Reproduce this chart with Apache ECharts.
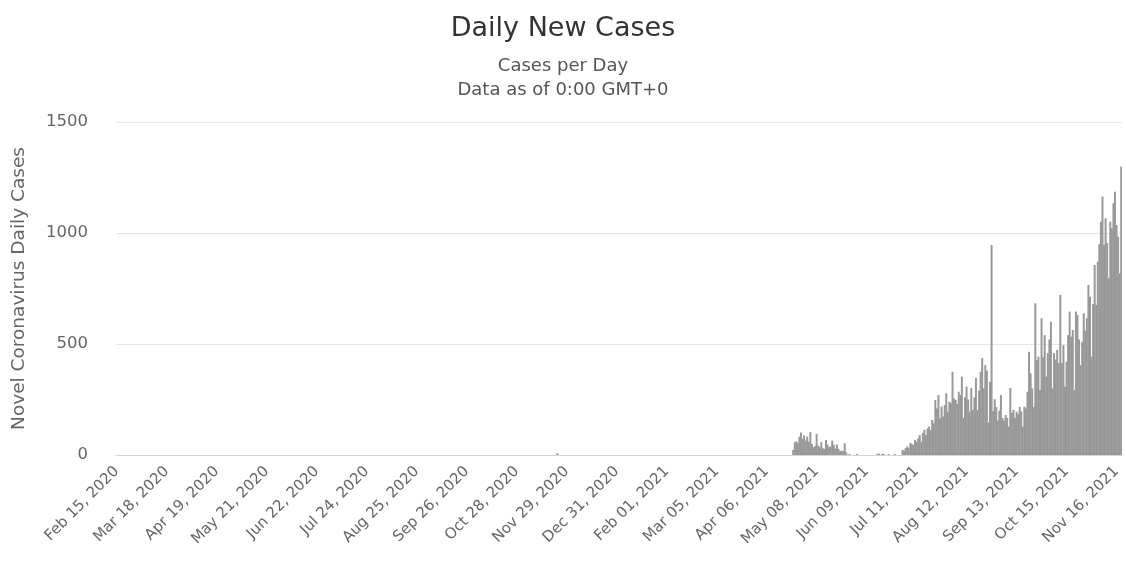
<!DOCTYPE html>
<html>
<head>
<meta charset="utf-8">
<title>Daily New Cases</title>
<script src="https://cdn.jsdelivr.net/npm/echarts@6/dist/echarts.min.js"></script>
<style>
	html,body{margin:0;padding:0;background:#fff;}
	#main{width:1126px;height:568px;}
</style>
</head>
<body>
<div id="main"></div>
<script>
// first day of the series, one bar per day
var startDate = [2020, 1, 15];
var monthNames = ['Jan','Feb','Mar','Apr','May','Jun','Jul','Aug','Sep','Oct','Nov','Dec'];

// labels shown on the x axis (every 32 days)
var tickLabels = ['Feb 15, 2020','Mar 18, 2020','Apr 19, 2020','May 21, 2020','Jun 22, 2020','Jul 24, 2020',
	'Aug 25, 2020','Sep 26, 2020','Oct 28, 2020','Nov 29, 2020','Dec 31, 2020','Feb 01, 2021','Mar 05, 2021',
	'Apr 06, 2021','May 08, 2021','Jun 09, 2021','Jul 11, 2021','Aug 12, 2021','Sep 13, 2021','Oct 15, 2021','Nov 16, 2021'];

// daily new cases, one row per 32 days
var dailyCases = [
	0,0,0,0,0,0,0,0,0,0,0,0,0,0,0,0,0,0,0,0,0,0,0,0,0,0,0,0,0,0,0,0,
	0,0,0,0,0,0,0,0,0,0,0,0,0,0,0,0,0,0,0,0,0,0,0,0,0,0,0,0,0,0,0,0,
	0,0,0,0,0,0,0,0,0,0,0,0,0,0,0,0,0,0,0,0,0,0,0,0,0,0,0,0,0,0,0,0,
	0,0,0,0,0,0,0,0,0,0,0,0,0,0,0,0,0,0,0,0,0,0,0,0,0,0,0,0,0,0,0,0,
	0,0,0,0,0,0,0,0,0,0,0,0,0,0,0,0,0,0,0,0,0,0,0,0,0,0,0,0,0,0,0,0,
	0,0,0,0,0,0,0,0,0,0,0,0,0,0,0,0,0,0,0,0,0,0,0,0,0,0,0,0,0,0,0,0,
	0,0,0,0,0,0,0,0,0,0,0,0,0,0,0,0,0,0,0,0,0,0,0,0,0,0,0,0,0,0,0,0,
	0,0,0,0,0,0,0,0,0,0,0,0,0,0,0,0,0,0,0,0,0,0,0,0,0,0,0,0,0,0,0,0,
	0,0,0,0,0,0,0,0,0,0,0,0,0,0,0,0,0,0,0,0,0,0,0,0,0,0,8,0,0,0,0,0,
	0,0,0,0,0,0,0,0,0,0,0,0,0,0,0,0,0,0,0,0,0,0,0,0,0,0,0,0,0,0,0,0,
	0,0,0,0,0,0,0,0,0,0,0,0,0,0,0,0,0,0,0,0,0,0,0,0,0,0,0,0,0,0,0,0,
	0,0,0,0,0,0,0,0,0,0,0,0,0,0,0,0,0,0,0,0,0,0,0,0,0,0,0,0,0,0,0,0,
	0,0,0,0,0,0,0,0,0,0,0,0,0,0,0,0,0,0,0,0,0,0,0,0,0,0,0,0,0,0,0,0,
	0,0,0,0,0,0,0,0,0,0,0,0,0,0,0,0,0,23,58,62,55,83,101,73,88,65,83,60,103,50,35,40,
	95,43,35,58,30,28,68,47,35,38,65,47,30,47,28,17,20,18,53,12,0,5,0,0,0,0,5,0,0,0,0,0,
	0,0,0,0,0,0,0,6,6,0,5,4,0,0,5,0,0,0,5,0,0,0,0,23,20,32,38,32,55,50,45,68,
	60,75,90,60,100,113,90,120,128,113,158,143,248,210,270,165,218,173,225,278,195,240,233,375,255,248,230,285,270,353,167,260,
	308,250,195,302,203,260,347,202,290,375,437,300,405,380,146,330,946,197,251,216,155,200,270,167,155,180,167,128,302,190,203,167,
	195,185,216,197,128,218,210,285,465,368,300,216,683,428,443,293,616,440,540,353,459,520,601,300,459,430,473,414,721,414,495,308,
	420,540,646,533,563,293,646,631,520,405,510,638,560,616,766,713,443,680,856,676,871,950,1051,1164,946,1066,955,796,1051,1021,1134,1186,
	1036,983,818,1299
];

// y axis ticks
var yMin = 0, yMax = 1500, yStep = 500;

// category names, one per day
var dayNames = [];
var d = new Date(startDate[0], startDate[1] - 1, startDate[2]);
for (var i = 0; i < dailyCases.length; i++) {
	var dd = d.getDate();
	dayNames.push(monthNames[d.getMonth()] + ' ' + (dd < 10 ? '0' + dd : dd) + ', ' + d.getFullYear());
	d.setDate(d.getDate() + 1);
}

var myChart = echarts.init(document.getElementById('main'));
var option = {
	animation: false,
	backgroundColor: '#fff',
	title: {
		text: 'Daily New Cases',
		subtext: 'Cases per Day\nData as of 0:00 GMT+0',
		left: 'center',
		top: 10,
		itemGap: 12,
		textStyle: {
			fontFamily: 'DejaVu Sans',
			fontSize: 27,
			fontWeight: 'normal',
			color: '#333'
		},
		subtextStyle: {
			fontFamily: 'DejaVu Sans',
			fontSize: 18,
			lineHeight: 24,
			color: '#555'
		}
	},
	grid: {
		left: 116,
		right: 4,
		top: 122,
		bottom: 113
	},
	xAxis: {
		type: 'category',
		data: dayNames,
		boundaryGap: true,
		axisLine: { lineStyle: { color: '#ccd6eb' } },
		axisTick: { show: false },
		axisLabel: {
			interval: 31,
			rotate: 45,
			margin: 14,
			fontFamily: 'DejaVu Sans',
			fontSize: 15,
			color: '#666',
			formatter: function (v, idx) {
				return tickLabels[Math.round(idx / 32)] || v;
			}
		}
	},
	yAxis: {
		type: 'value',
		min: yMin,
		max: yMax,
		interval: yStep,
		name: 'Novel Coronavirus Daily Cases',
		nameLocation: 'middle',
		nameGap: 87,
		nameTextStyle: {
			fontFamily: 'DejaVu Sans',
			fontSize: 18.5,
			color: '#666'
		},
		axisLine: { show: false },
		axisTick: { show: false },
		axisLabel: {
			margin: 28,
			fontFamily: 'DejaVu Sans',
			fontSize: 16.5,
			color: '#666',
			formatter: function (v) { return String(v); }
		},
		splitLine: { lineStyle: { color: '#e6e6e6' } }
	},
	series: [{
		name: 'Daily Cases',
		type: 'bar',
		data: dailyCases,
		barWidth: 2,
		itemStyle: { color: '#999999' }
	}]
};
myChart.setOption(option);
</script>
</body>
</html>
